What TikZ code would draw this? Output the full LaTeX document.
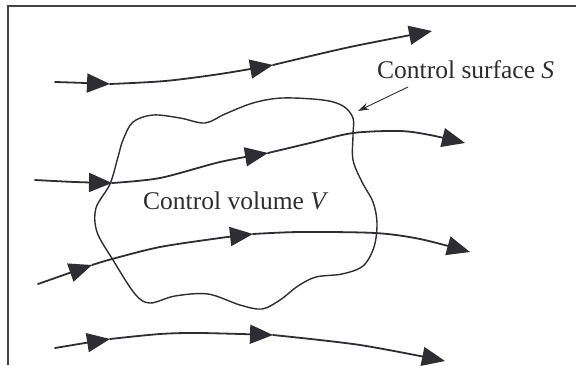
\documentclass[tikz,border=0pt]{standalone}
\usepackage{fontspec}
\setmainfont{Liberation Serif}
\usetikzlibrary{arrows.meta}
\definecolor{ink}{RGB}{45,45,50}
\tikzset{
  flow/.style={draw=ink, line width=1.8pt, line cap=round},
  flowtip/.style={-{Triangle[length=23pt,width=19pt]}},
  surface/.style={draw=ink, line width=1.4pt},
  framebar/.style={draw=ink!90, line width=2pt},
  label/.style={font=\fontsize{25.5}{30}\selectfont, text=ink, inner sep=0pt, anchor=base west}
}
\begin{document}
\begin{tikzpicture}[x=1pt,y=-1pt]
\useasboundingbox (0,0) rectangle (576,365);
% frame
\draw[framebar] (8,365) -- (8,6) -- (576,6);
% control surface
\draw[surface] plot[smooth cycle, tension=0.55] coordinates {
 (123,140) (133,122) (153,115) (180,118) (205,123) (225,114) (253,103) (282,98)
 (323,100) (343,106) (353,118) (353,135) (353,160) (362,182) (373,202) (377,223)
 (374,247) (363,266) (342,274) (316,277) (298,286) (280,300) (262,309) (240,305)
 (208,294) (175,296) (150,303) (135,294) (113,260) (97,232) (96,208) (110,184) (118,157)};
% streamline 1
\draw[flow,flowtip] plot[smooth] coordinates {(55,82) (80,82.8) (110,84)};
\draw[flow,flowtip] plot[smooth] coordinates {(110,84) (165,81) (220,74) (273,65)};
\draw[flow,flowtip] plot[smooth] coordinates {(273,65) (350,47) (432,31)};
% streamline 2
\draw[flow,flowtip] plot[smooth] coordinates {(35,180) (75,182) (112,183)};
\draw[flow,flowtip] plot[smooth] coordinates {(112,183) (160,178) (220,162) (268,153)};
\draw[flow,flowtip] plot[smooth] coordinates {(268,153) (310,143) (353,133) (400,131) (430,135) (465,143)};
% streamline 3
\draw[flow,flowtip] plot[smooth] coordinates {(38,284) (65,274.5) (92,265)};
\draw[flow,flowtip] plot[smooth] coordinates {(92,265) (112,259) (160,247) (220,238) (253,234)};
\draw[flow,flowtip] plot[smooth] coordinates {(253,234) (300,232) (375,233) (420,239) (470,252)};
% streamline 4
\draw[flow,flowtip] plot[smooth] coordinates {(55,348) (82,343.5) (110,339)};
\draw[flow,flowtip] plot[smooth] coordinates {(110,339) (160,334) (200,333) (273,335)};
\draw[flow,flowtip] plot[smooth] coordinates {(273,335) (360,345) (445,361)};
% labels
\node[label] (cs) at (377,78) {Control surface \textit{S}};
\node[label] (cv) at (143,209) {Control volume \textit{V}};
\coordinate (ptrstart) at (408,87);
\coordinate (ptrend) at (358,111);
\draw[draw=ink, line width=0.9pt, -{Stealth[length=11pt,width=7pt]}] (ptrstart) -- (ptrend);
\end{tikzpicture}
\end{document}
